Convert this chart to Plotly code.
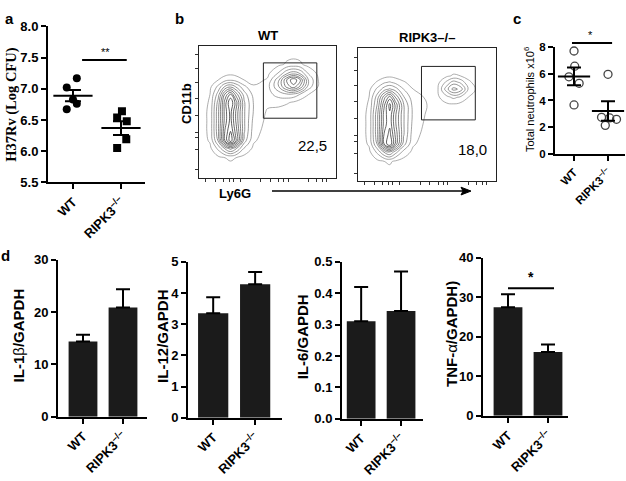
import plotly.graph_objects as go

W, H = 626, 481

# ---------------- data ----------------
groups = ["WT", "RIPK3<sup>–/–</sup>"]

# panel a : H37Rv (Log CFU)
a_wt = [7.17, 7.02, 6.83, 6.76, 6.67]
a_ko = [6.64, 6.54, 6.48, 6.19, 6.05]
a_wt_jit = [0.08, -0.13, 0.0, 0.08, -0.13]
a_ko_jit = [0.02, -0.08, 0.12, 0.11, -0.08]
a_mean = [6.89, 6.37]
a_sem = [0.09, 0.11]
a_ticks = [5.5, 6.0, 6.5, 7.0, 7.5, 8.0]

# panel c : total neutrophils x10^6
c_wt = [7.68, 6.55, 5.76, 5.28, 3.67]
c_ko = [5.95, 2.75, 2.70, 2.60, 2.15]
c_wt_jit = [0.0, 0.02, -0.15, 0.15, 0.0]
c_ko_jit = [0.0, -0.19, 0.05, 0.25, -0.08]
c_mean = [5.79, 3.22]
c_sem = [0.66, 0.72]
c_ticks = [0, 2, 4, 6, 8]

# panel b : flow cytometry (coarse density grids)
flow_titles = ["WT", "RIPK3–/–"]
flow_pct = ["22,5", "18,0"]
flow_x = [0.0, 0.08, 0.14, 0.19, 0.23, 0.27, 0.33, 0.40, 0.50, 0.58, 0.64, 0.69, 0.74, 0.80, 0.88, 1.0]
flow_y = [0.0, 0.15, 0.22, 0.28, 0.35, 0.43, 0.50, 0.57, 0.63, 0.69, 0.74, 0.79, 0.86, 1.0]
flow_wt = [
    [0, 0, 0, 0, 0, 0, 0, 0, 0, 0, 0, 0, 0, 0, 0, 0],
    [0, 0, 0.3, 0.5, 0.6, 0.5, 0.2, 0, 0, 0, 0, 0, 0, 0, 0, 0],
    [0, 0.3, 1.5, 3, 4, 3, 1.2, 0.3, 0, 0, 0, 0, 0, 0, 0, 0],
    [0, 0.6, 3, 7, 9, 7, 2.5, 0.6, 0.1, 0, 0, 0, 0, 0, 0, 0],
    [0, 0.7, 3.5, 7, 8.5, 6.5, 3, 0.8, 0.2, 0, 0, 0, 0, 0, 0, 0],
    [0, 0.7, 3.5, 6.5, 8, 6, 3, 1, 0.3, 0.1, 0, 0, 0, 0, 0, 0],
    [0, 0.7, 3.5, 6.5, 8, 6, 3, 1.2, 0.4, 0.2, 0.1, 0, 0, 0, 0, 0],
    [0, 0.6, 3.2, 6.5, 8.5, 6.5, 3, 1.2, 0.7, 0.8, 0.6, 0.4, 0.1, 0, 0, 0],
    [0, 0.5, 2.5, 5.5, 7, 5, 2.5, 1, 1.0, 1.6, 1.9, 1.8, 1.2, 0.5, 0, 0],
    [0, 0.3, 1.5, 3, 3.5, 2.8, 1.5, 0.6, 1.0, 2.8, 4.8, 5.8, 4.3, 1.7, 0.3, 0],
    [0, 0.1, 0.5, 1, 1.2, 1, 0.5, 0.2, 0.6, 2.7, 5.3, 6.8, 5.3, 2.0, 0.3, 0],
    [0, 0, 0.1, 0.2, 0.3, 0.2, 0.1, 0, 0.3, 1.4, 2.8, 3.4, 2.8, 1.2, 0.2, 0],
    [0, 0, 0, 0, 0, 0, 0, 0, 0, 0.3, 0.6, 0.7, 0.6, 0.2, 0, 0],
    [0, 0, 0, 0, 0, 0, 0, 0, 0, 0, 0, 0, 0, 0, 0, 0],
]
flow_ko = [
    [0, 0, 0, 0, 0, 0, 0, 0, 0, 0, 0, 0, 0, 0, 0, 0],
    [0, 0, 0.3, 0.5, 0.6, 0.4, 0.2, 0, 0, 0, 0, 0, 0, 0, 0, 0],
    [0, 0.3, 1.5, 3, 3.8, 2.5, 1, 0.3, 0, 0, 0, 0, 0, 0, 0, 0],
    [0, 0.6, 3, 7, 8.5, 6, 2.5, 0.6, 0.1, 0, 0, 0, 0, 0, 0, 0],
    [0, 0.7, 3.5, 7, 8, 6, 3, 0.8, 0.2, 0, 0, 0, 0, 0, 0, 0],
    [0, 0.7, 3.5, 6.5, 7.5, 5.5, 3, 1, 0.3, 0.1, 0, 0, 0, 0, 0, 0],
    [0, 0.7, 3.5, 6.5, 7.5, 5.5, 3, 1.1, 0.4, 0.2, 0.1, 0, 0, 0, 0, 0],
    [0, 0.6, 3, 6, 8, 6, 3, 1, 0.5, 0.3, 0.3, 0.3, 0.2, 0, 0, 0],
    [0, 0.5, 2.5, 5, 6.5, 4.5, 2.2, 0.8, 0.4, 0.4, 1, 1.5, 1.2, 0.5, 0, 0],
    [0, 0.3, 1.5, 2.5, 3, 2.5, 1.3, 0.5, 0.2, 0.5, 2.5, 4, 3.5, 1.2, 0.1, 0],
    [0, 0.1, 0.6, 1.2, 1.4, 1.1, 0.6, 0.2, 0.1, 0.3, 1.5, 2.5, 2, 0.7, 0, 0],
    [0, 0, 0.1, 0.2, 0.3, 0.2, 0.1, 0, 0, 0.1, 0.3, 0.6, 0.5, 0.2, 0, 0],
    [0, 0, 0, 0, 0, 0, 0, 0, 0, 0, 0, 0, 0, 0, 0, 0],
    [0, 0, 0, 0, 0, 0, 0, 0, 0, 0, 0, 0, 0, 0, 0, 0],
]
gate_wt = [0.47, 0.86, 0.45, 0.87]
gate_ko = [0.46, 0.85, 0.46, 0.86]

# panel d : cytokine expression (mean, upper error)
d_labels = ["IL-1<span style='font-weight:normal'>β</span>/GAPDH",
            "IL-12/GAPDH",
            "IL-6/GAPDH",
            "TNF-<span style='font-weight:normal'>α</span>/GAPDH)"]
d_mean = [[14.4, 20.9], [3.35, 4.28], [0.311, 0.343], [27.5, 16.2]]
d_err = [[1.3, 3.5], [0.51, 0.39], [0.109, 0.126], [3.3, 1.9]]
d_ticks = [[0, 10, 20, 30], [0, 1, 2, 3, 4, 5],
           [0.0, 0.1, 0.2, 0.3, 0.4, 0.5], [0, 10, 20, 30, 40]]
d_tickfmt = ["d", "d", ".1f", "d"]

# ---------------- layout helpers ----------------
SANS = "Liberation Sans, Arial, sans-serif"
SERIF = "Liberation Serif, Times New Roman, serif"


def dx(l, r):
    return [l / W, r / W]


def dy(t, b):
    return [1 - b / H, 1 - t / H]


def px_x(x):
    return x / W


def px_y(y):
    return 1 - y / H


fig = go.Figure()
layout = dict(width=W, height=H, margin=dict(l=0, r=0, t=0, b=0),
              paper_bgcolor="white", plot_bgcolor="white", showlegend=False,
              font=dict(family=SANS, color="black"))
annotations = []
shapes = []


def label(text, x, y, size, angle=0, family=SANS, weight="bold"):
    annotations.append(dict(text=text, x=px_x(x), y=px_y(y), xref="paper", yref="paper",
                            xanchor="center", yanchor="middle", textangle=angle,
                            showarrow=False,
                            font=dict(family=family, size=size, weight=weight)))


def cat_xaxis(dom, rng, anchor, size=13):
    return dict(domain=dom, range=rng, anchor=anchor, showgrid=False, zeroline=False,
                showline=True, linecolor="black", linewidth=2,
                tickvals=[0, 1], ticktext=groups, tickangle=-45,
                ticks="outside", ticklen=5, tickwidth=2, tickcolor="black",
                tickfont=dict(family=SANS, size=size, weight="bold"))


def val_yaxis(dom, rng, anchor, tickvals, fmt, size=13):
    return dict(domain=dom, range=rng, anchor=anchor, showgrid=False, zeroline=False,
                showline=True, linecolor="black", linewidth=2,
                tickvals=tickvals, ticks="outside", ticklen=5, tickwidth=2,
                tickcolor="black", tickformat=fmt,
                tickfont=dict(family=SANS, size=size, weight="bold"))


# ---------------- panel a ----------------
layout["xaxis"] = cat_xaxis(dx(48, 145), [-0.52, 1.5], "y")
layout["yaxis"] = val_yaxis(dy(20, 181), [5.5, 8.0], "x", a_ticks, ".1f")
label("H37Rv (Log CFU)", 12, 101, 14.5, angle=-90, family=SERIF)
fig.add_trace(go.Scatter(x=[0 + j for j in a_wt_jit], y=a_wt, mode="markers",
                         marker=dict(symbol="circle", size=8, color="black"),
                         xaxis="x", yaxis="y"))
fig.add_trace(go.Scatter(x=[1 + j for j in a_ko_jit], y=a_ko, mode="markers",
                         marker=dict(symbol="square", size=8, color="black"),
                         xaxis="x", yaxis="y"))
fig.add_trace(go.Scatter(x=[0, 1], y=a_mean, mode="markers",
                         marker=dict(symbol="line-ew", size=28, line=dict(width=2, color="black")),
                         error_y=dict(type="data", array=a_sem, color="black", thickness=2, width=8),
                         xaxis="x", yaxis="y"))
shapes.append(dict(type="line", xref="x", yref="y", x0=0.19, x1=1.12, y0=7.46, y1=7.46,
                   line=dict(color="black", width=2)))
annotations.append(dict(text="**", x=0.67, y=7.46, xref="x", yref="y", showarrow=False,
                        xanchor="center", yanchor="bottom", font=dict(size=11, family=SANS)))

# ---------------- panel b ----------------
flow_frames = [((199, 336), (40, 176)), ((358, 496), (42, 180))]
flow_grids = [flow_wt, flow_ko]
gates = [gate_wt, gate_ko]
for i in range(2):
    xn, yn = f"x{i + 2}", f"y{i + 2}"
    (l, r), (t, b) = flow_frames[i]
    common = dict(range=[0, 1], showgrid=False, zeroline=False, showline=True, mirror=True,
                  linecolor="#222", linewidth=1, ticks="outside", ticklen=3, tickwidth=1,
                  tickcolor="#333", showticklabels=False)
    layout[f"xaxis{i + 2}"] = dict(domain=dx(l, r), anchor=yn,
                                   tickvals=[0.05, 0.12, 0.18, 0.22, 0.25, 0.3, 0.45, 0.52, 0.58,
                                             0.62, 0.65, 0.8, 0.86, 0.9, 0.93], **common)
    layout[f"yaxis{i + 2}"] = dict(domain=dy(t, b), anchor=xn,
                                   tickvals=[0.06, 0.21, 0.3, 0.34, 0.47, 0.6, 0.72, 0.83, 0.93],
                                   **common)
    fig.add_trace(go.Contour(x=flow_x, y=flow_y, z=flow_grids[i], xaxis=xn, yaxis=yn,
                             showscale=False,
                             contours=dict(coloring="lines", start=0.5, end=9.5, size=0.8),
                             colorscale=[[0, "#8a8a8a"], [0.5, "#444"], [1, "#000"]],
                             line=dict(width=0.7, smoothing=1.2)))
    g = gates[i]
    shapes.append(dict(type="rect", xref=xn, yref=yn, x0=g[0], x1=g[1], y0=g[2], y1=g[3],
                       line=dict(color="#222", width=1)))
    annotations.append(dict(text=flow_titles[i], x=0.5, y=1.0, xref=f"{xn} domain",
                            yref=f"{yn} domain", xanchor="center", yanchor="bottom", yshift=1,
                            showarrow=False, font=dict(size=13, weight="bold")))
    annotations.append(dict(text=flow_pct[i], x=0.83, y=0.24, xref=f"{xn} domain",
                            yref=f"{yn} domain", xanchor="center", yanchor="middle",
                            showarrow=False, font=dict(size=15)))
label("CD11b", 187, 100, 13, angle=-90)
label("Ly6G", 235, 193, 13)
# long arrow along the Ly6G axis
shapes.append(dict(type="line", xref="paper", yref="paper", x0=px_x(272), x1=px_x(463),
                   y0=px_y(190), y1=px_y(190), line=dict(color="black", width=1.6)))
shapes.append(dict(type="path", xref="paper", yref="paper",
                   path=f"M {px_x(471)} {px_y(190)} L {px_x(461)} {px_y(186)} "
                        f"L {px_x(463)} {px_y(190)} L {px_x(461)} {px_y(194)} Z",
                   fillcolor="black", line=dict(color="black", width=1)))

# ---------------- panel c ----------------
layout["xaxis4"] = cat_xaxis(dx(555, 625), [-0.56, 1.5], "y4", size=11.5)
layout["yaxis4"] = val_yaxis(dy(41, 152), [0, 8], "x4", c_ticks, "d", size=11.5)
label("Total neutrophils x10<sup>6</sup>", 529, 96, 11, angle=-90, weight="normal")
fig.add_trace(go.Scatter(x=[0 + j for j in c_wt_jit], y=c_wt, mode="markers", cliponaxis=False,
                         marker=dict(symbol="circle-open", size=8, color="#444",
                                     line=dict(width=1.3)), xaxis="x4", yaxis="y4"))
fig.add_trace(go.Scatter(x=[1 + j for j in c_ko_jit], y=c_ko, mode="markers", cliponaxis=False,
                         marker=dict(symbol="circle-open", size=8, color="#444",
                                     line=dict(width=1.3)), xaxis="x4", yaxis="y4"))
fig.add_trace(go.Scatter(x=[0, 1], y=c_mean, mode="markers", cliponaxis=False,
                         marker=dict(symbol="line-ew", size=23, line=dict(width=2, color="black")),
                         error_y=dict(type="data", array=c_sem, color="black", thickness=2, width=7),
                         xaxis="x4", yaxis="y4"))
c_dom = dy(41, 152)


def c_paper_y(v):
    return c_dom[0] + (c_dom[1] - c_dom[0]) * v / 8


shapes.append(dict(type="line", xref="x4", yref="paper", x0=-0.06, x1=1.12,
                   y0=c_paper_y(8.28), y1=c_paper_y(8.28), line=dict(color="black", width=2)))
annotations.append(dict(text="*", x=0.47, y=c_paper_y(8.28), xref="x4", yref="paper",
                        xanchor="center", yanchor="bottom", showarrow=False, font=dict(size=11)))

# ---------------- panel d ----------------
d_frames = [((58, 147), (261, 423), [-0.625, 1.6], 18),
            ((188, 282), (263, 424), [-0.6, 1.64], 163),
            ((342, 423), (263, 425), [-0.48, 1.55], 302),
            ((483, 568), (259, 422), [-0.625, 1.5], 452)]
for i in range(4):
    k = i + 5
    xn, yn = f"x{k}", f"y{k}"
    (l, r), (t, b), xr, lx = d_frames[i]
    ticks = d_ticks[i]
    layout[f"xaxis{k}"] = cat_xaxis(dx(l, r), xr, yn)
    layout[f"yaxis{k}"] = val_yaxis(dy(t, b), [ticks[0], ticks[-1]], xn, ticks, d_tickfmt[i])
    label(d_labels[i], lx, (t + b) / 2 - 3, 15, angle=-90)
    fig.add_trace(go.Bar(x=[0, 1], y=d_mean[i], width=0.72, marker=dict(color="#1b1b1b",
                                                                         line=dict(width=0)),
                         error_y=dict(type="data", symmetric=False, array=d_err[i],
                                      arrayminus=[0, 0], color="black", thickness=2, width=7),
                         xaxis=xn, yaxis=yn))

shapes.append(dict(type="line", xref="x8", yref="y8", x0=0.0, x1=1.15, y0=32.3, y1=32.3,
                   line=dict(color="black", width=2)))
annotations.append(dict(text="*", x=0.575, y=32.3, xref="x8", yref="y8", xanchor="center",
                        yanchor="bottom", yshift=1, showarrow=False,
                        font=dict(size=14, weight="bold")))

# ---------------- panel letters ----------------
for txt, lx, ly in [("a", 9, 12), ("b", 179, 12), ("c", 517, 12), ("d", 5, 257)]:
    label(txt, lx, ly, 15)

layout["annotations"] = annotations
layout["shapes"] = shapes
fig.update_layout(**layout)
fig.write_html("out.html", config={"displayModeBar": False},
               post_script="document.body.style.margin='0';")
